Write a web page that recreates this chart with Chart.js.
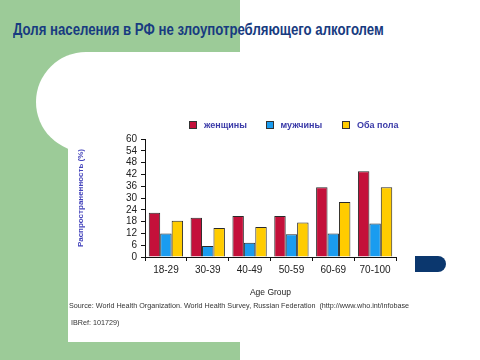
<!DOCTYPE html>
<html lang="ru">
<head>
  <meta charset="UTF-8">
  <title>Доля населения в РФ не злоупотребляющего алкоголем</title>
  <script src="https://cdn.jsdelivr.net/npm/chart.js"></script>
  <style>
    * { margin: 0; padding: 0; box-sizing: border-box; }
    body { width: 480px; height: 360px; background: #fff; position: relative; overflow: hidden; font-family: 'Liberation Sans', Arial, sans-serif; }
    .bg { position: absolute; }
    #green { left: 0; top: 0; width: 240px; height: 360px; background: #9ccb98; }
    #corner { left: 36px; top: 52px; width: 100px; height: 100px; border-radius: 50%; background: #fff; }
    #w1 { left: 86px; top: 52px; width: 154px; height: 290px; background: #fff; }
    #w2 { left: 68px; top: 102px; width: 172px; height: 240px; background: #fff; }
    #tab { left: 415px; top: 256px; width: 31px; height: 16px; background: #0b376e; border-radius: 0 8px 8px 0; }
    h1 {
      position: absolute; left: 13px; top: 21px;
      font-family: 'Liberation Sans', Arial, sans-serif;
      font-size: 16px; font-weight: bold; color: #183b80; white-space: nowrap;
      transform: scaleX(0.825); transform-origin: left center;
    }
    #legend { position: absolute; left: 189px; top: 120px; display: flex; }
    .item { width: 76.5px; display: flex; align-items: center; font-size: 9px; font-weight: bold; color: #3a3aa8; white-space: nowrap; }
    .box { width: 8px; height: 8px; border: 1px solid #333; margin-right: 7px; }
    #chart-container { position: absolute; left: 0; top: 0; width: 480px; height: 360px; }
    .src { position: absolute; font-size: 7.2px; color: #333; white-space: nowrap; }
  </style>
</head>
<body>
  <div class="bg" id="green"></div>
  <div class="bg" id="corner"></div>
  <div class="bg" id="w1"></div>
  <div class="bg" id="w2"></div>
  <div class="bg" id="tab"></div>
  <h1>Доля населения в РФ не злоупотребляющего алкоголем</h1>
  <div id="chart-container">
    <canvas id="alcChart" width="480" height="360"></canvas>
  </div>
  <div id="legend"></div>
  <div class="src" style="left:69px; top:301px;">Source: World Health Organization. World Health Survey, Russian Federation&nbsp; (http://www.who.int/infobase</div>
  <div class="src" style="left:71px; top:318px;">IBRef: 101729)</div>

  <script>
    const ageGroups = ["18-29", "30-39", "40-49", "50-59", "60-69", "70-100"];
    const women = [22.5, 20, 20.8, 20.8, 35.5, 43.6];
    const men = [12, 5.6, 7.2, 11.6, 12, 17];
    const both = [18.4, 14.8, 15.3, 17.6, 28, 35.5];
    const seriesNames = ["женщины", "мужчины", "Оба пола"];
    const seriesColors = ["#c4103a", "#1a9cf0", "#ffcc00"];

    const ctx = document.getElementById('alcChart').getContext('2d');

    const chart = new Chart(ctx, {
      type: 'bar',
      data: {
        labels: ageGroups,
        datasets: [women, men, both].map((vals, i) => ({
          label: seriesNames[i],
          data: vals,
          backgroundColor: seriesColors[i],
          borderColor: '#2a2a2a',
          borderWidth: 1,
          barPercentage: 1.0,
          categoryPercentage: 0.82
        }))
      },
      options: {
        responsive: false,
        animation: false,
        layout: { padding: { left: 70, right: 84, top: 139, bottom: 62 } },
        plugins: {
          legend: { display: false },
          tooltip: { enabled: false }
        },
        scales: {
          x: {
            afterFit: (s) => { s.height = 41; },
            grid: { display: true, offset: true, drawOnChartArea: false, color: '#111', tickLength: 4, lineWidth: 1 },
            border: { color: '#111', width: 1 },
            ticks: { color: '#222', font: { family: 'Liberation Sans', size: 10 }, padding: 3 },
            title: { display: true, text: 'Age Group', color: '#222', font: { family: 'Liberation Sans', size: 8.5 }, padding: 0 }
          },
          y: {
            min: 0,
            max: 60,
            afterFit: (s) => { s.width = 75; },
            grid: { display: true, drawOnChartArea: false, color: '#111', tickLength: 4 },
            border: { color: '#111', width: 1 },
            ticks: { stepSize: 6, autoSkip: false, color: '#222', font: { family: 'Liberation Sans', size: 10 }, padding: 4 },
            title: { display: true, text: 'Распространенность (%)', color: '#4444bb', font: { family: 'Liberation Sans', size: 8, weight: 'bold' }, padding: { top: 6, bottom: 0 } }
          }
        }
      }
    });

    // legend from the chart's own datasets
    const legend = document.getElementById('legend');
    chart.data.datasets.forEach(ds => {
      const item = document.createElement('div');
      item.className = 'item';
      const box = document.createElement('span');
      box.className = 'box';
      box.style.background = ds.backgroundColor;
      item.appendChild(box);
      item.appendChild(document.createTextNode(ds.label));
      legend.appendChild(item);
    });
  </script>
</body>
</html>
